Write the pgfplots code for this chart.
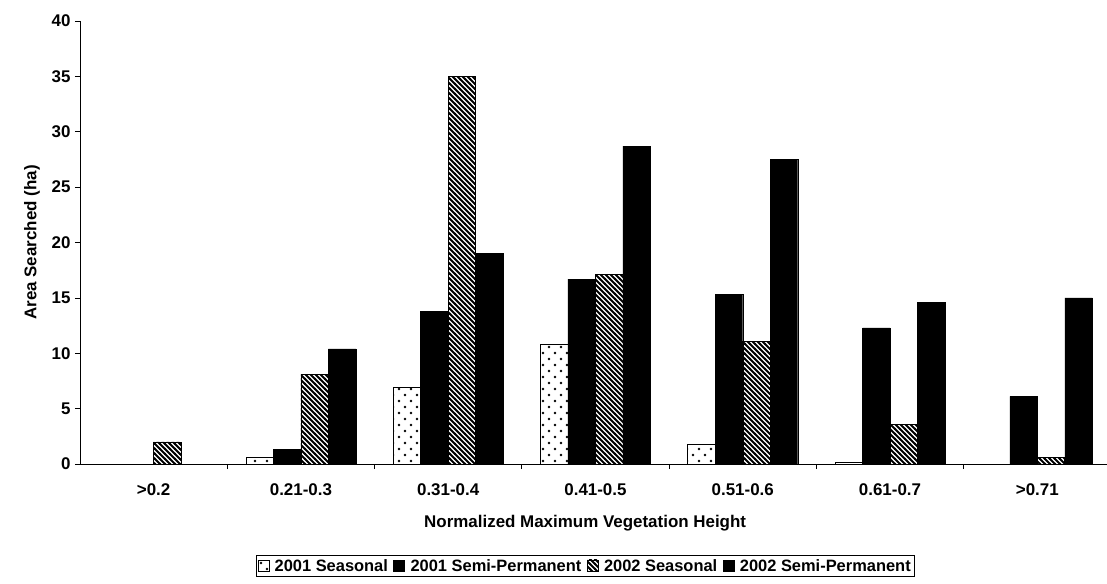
\documentclass[border=0pt]{standalone}
\usepackage{pgfplots}
\pgfplotsset{compat=1.18}
\usepackage{pgfplotstable}
\usepackage{fontspec}
\setmainfont{Liberation Sans}
\usetikzlibrary{patterns}

\pgfdeclarepatternformonly{sparsedots}{\pgfqpoint{-1bp}{-1bp}}{\pgfqpoint{13bp}{13bp}}{\pgfqpoint{12bp}{12bp}}{%
  \pgfpathcircle{\pgfqpoint{3bp}{3bp}}{1.4bp}%
  \pgfpathcircle{\pgfqpoint{9bp}{9bp}}{1.4bp}%
  \pgfusepath{fill}}
\pgfdeclarepatternformonly{densehatch}{\pgfqpoint{-1bp}{-1bp}}{\pgfqpoint{6bp}{6bp}}{\pgfqpoint{5bp}{5bp}}{%
  \pgfsetlinewidth{2.1bp}%
  \pgfpathmoveto{\pgfqpoint{-0.6bp}{5.6bp}}%
  \pgfpathlineto{\pgfqpoint{5.6bp}{-0.6bp}}%
  \pgfusepath{stroke}}

\pgfplotstableread{
x s01 p01 s02 p02
0 0 0 2.0 0
1 0.63 1.35 8.1 10.4
2 6.9 13.8 35.0 19.0
3 10.8 16.7 17.1 28.7
4 1.8 15.3 11.1 27.5
5 0.15 12.3 3.6 14.6
6 0 6.1 0.6 15.0
}\datatable

\begin{document}
\begin{tikzpicture}[font=\bfseries\fontsize{17}{20}\selectfont]
\begin{axis}[
  at={(0,0)}, anchor=south west,
  scale only axis, width=1031bp, height=443bp,
  ybar=0pt, bar width=27.5bp,
  xmin=-0.5, xmax=6.5, ymin=0, ymax=40,
  axis x line*=bottom, axis y line*=left,
  axis line style={black, line width=0.7bp},
  tick align=outside, major tick length=5bp,
  ytick={0,5,...,40},
  /pgf/number format/assume math mode=true,
  xtick={0,...,6},
  xticklabels={{>0.2},{0.21-0.3},{0.31-0.4},{0.41-0.5},{0.51-0.6},{0.61-0.7},{>0.71}},
  xtick style={draw=none},
  extra x ticks={0.5,1.5,2.5,3.5,4.5,5.5},
  extra x tick labels={},
  extra x tick style={xtick style={draw=black, line width=0.7bp}},
  ytick style={black, line width=0.7bp},
  x tick label style={yshift=-11bp},
  y tick label style={xshift=-1bp},
  every axis x label/.style={at={(axis description cs:0.49,-0.133)}, anchor=center},
  every axis y label/.style={at={(axis description cs:-0.0466,0.5)}, rotate=90, anchor=center},
  xlabel={Normalized Maximum Vegetation Height},
  ylabel={Area Searched (ha)},
  legend columns=4,
  legend style={at={(axis description cs:0.49,-0.23)}, anchor=center, draw=black, line width=0.6bp,
    inner sep=1.5bp, font=\bfseries\fontsize{16.5}{19}\selectfont, /tikz/column sep=3.5bp},
  legend image code/.code={\draw[#1, line width=0.6bp] (0bp,-5bp) rectangle (11bp,6bp);},
]
\addplot[draw=black, line width=0.6bp, pattern=sparsedots] table[x=x,y=s01]{\datatable};
\addplot[draw=black, fill=black] table[x=x,y=p01]{\datatable};
\addplot[draw=black, line width=0.6bp, pattern=densehatch] table[x=x,y=s02]{\datatable};
\addplot[draw=black, fill=black] table[x=x,y=p02]{\datatable};
\legend{2001 Seasonal, 2001 Semi-Permanent, 2002 Seasonal, 2002 Semi-Permanent}
\end{axis}
\pgfresetboundingbox
\useasboundingbox (-80bp,-120bp) rectangle (1027bp,464bp);
\end{tikzpicture}
\end{document}
